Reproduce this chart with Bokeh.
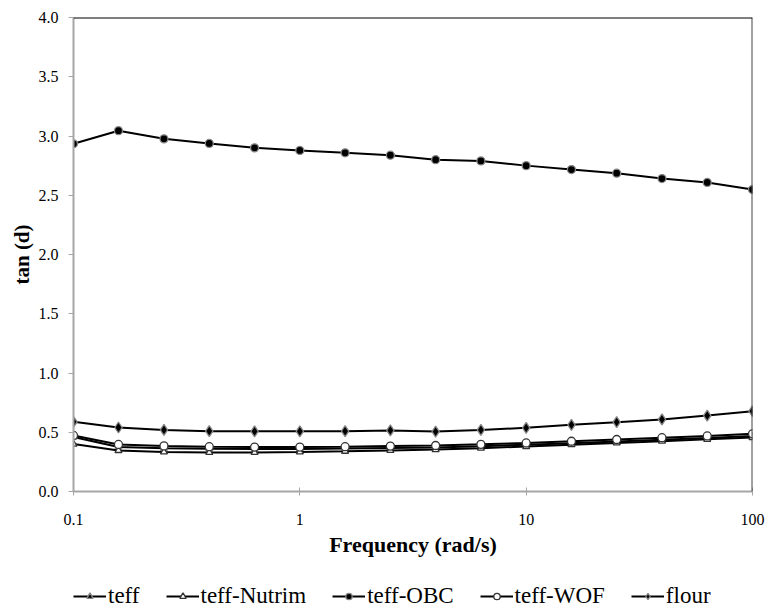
from bokeh.plotting import figure
from bokeh.layouts import column
from bokeh.models import FixedTicker, Span, Legend, LegendItem, Range1d
from bokeh.embed import file_html
from bokeh.resources import INLINE

freq = [0.1, 0.158, 0.251, 0.398, 0.631, 1.0, 1.585, 2.512, 3.981, 6.31,
        10.0, 15.85, 25.12, 39.81, 63.1, 100.0]

teff = [0.46, 0.375, 0.365, 0.36, 0.358, 0.358, 0.362, 0.367, 0.372, 0.382,
        0.395, 0.408, 0.422, 0.437, 0.452, 0.468]
teff_nutrim = [0.40, 0.346, 0.334, 0.33, 0.33, 0.334, 0.34, 0.347, 0.354, 0.366,
               0.38, 0.395, 0.41, 0.425, 0.44, 0.455]
teff_obc = [2.934, 3.045, 2.976, 2.937, 2.90, 2.878, 2.858, 2.838, 2.80, 2.79,
            2.75, 2.717, 2.686, 2.641, 2.608, 2.548]
teff_wof = [0.473, 0.397, 0.385, 0.378, 0.375, 0.375, 0.378, 0.383, 0.388, 0.398,
            0.41, 0.424, 0.439, 0.454, 0.469, 0.487]
flour = [0.588, 0.54, 0.52, 0.509, 0.508, 0.508, 0.509, 0.515, 0.506, 0.52,
         0.537, 0.563, 0.585, 0.608, 0.641, 0.678]

x_ticks = [0.1, 1, 10, 100]
x_tick_labels = ["0.1", "1", "10", "100"]
y_ticks = [0.0, 0.5, 1.0, 1.5, 2.0, 2.5, 3.0, 3.5, 4.0]

FONT = "Liberation Serif"

series = [
    ("teff", teff, "triangle", "black", 7),
    ("teff-Nutrim", teff_nutrim, "triangle", "white", 7),
    ("teff-OBC", teff_obc, "circle", "black", 8),
    ("teff-WOF", teff_wof, "circle", "white", 8),
    ("flour", flour, "diamond", "black", 11),
]

# ---------------- main chart ----------------
p = figure(frame_width=679, frame_height=474, x_axis_type="log",
           x_range=Range1d(0.1, 100), y_range=Range1d(0, 4.0),
           output_backend="svg", toolbar_location=None,
           min_border_left=73, min_border_right=14, min_border_top=17,
           min_border_bottom=72)
p.outline_line_color = None
p.xgrid.grid_line_color = None
p.ygrid.grid_line_color = None
p.background_fill_color = "white"
p.border_fill_color = "white"

for name, vals, marker, fill, size in series:
    p.line(freq, vals, line_color="black", line_width=2)
    p.scatter(freq, vals, marker=marker, size=size, fill_color=fill,
              line_color="#333333" if fill == "white" else "#888888",
              line_width=1.3)

p.add_layout(Span(location=100, dimension="height", line_color="#444444", line_width=2))
p.add_layout(Span(location=4.0, dimension="width", line_color="black", line_width=2))

for ax in (p.xaxis[0], p.yaxis[0]):
    ax.axis_line_color = "#a6a6a6"
    ax.axis_line_width = 2
    ax.major_tick_line_color = "#a6a6a6"
    ax.major_tick_line_width = 1
    ax.minor_tick_line_color = None
    ax.major_label_text_font = FONT
    ax.major_label_text_font_size = "16px"
    ax.major_label_text_color = "black"
    ax.axis_label_text_font = FONT
    ax.axis_label_text_font_style = "bold"
    ax.axis_label_text_color = "black"

p.xaxis.ticker = FixedTicker(ticks=x_ticks)
p.xaxis.major_label_overrides = {t: l for t, l in zip(x_ticks, x_tick_labels)}
p.xaxis.major_tick_in = 4
p.xaxis.major_tick_out = 4
p.xaxis.major_label_standoff = 18
p.xaxis.axis_label = "Frequency (rad/s)"
p.xaxis.axis_label_text_font_size = "22px"
p.xaxis.axis_label_standoff = 4

p.yaxis.ticker = FixedTicker(ticks=y_ticks)
p.yaxis.major_label_overrides = {t: f"{t:.1f}" for t in y_ticks}
p.yaxis.major_tick_in = 0
p.yaxis.major_tick_out = 5
p.yaxis.major_label_standoff = 10
p.yaxis.axis_label = "tan (d)"
p.yaxis.axis_label_text_font_size = "21px"
p.yaxis.axis_label_standoff = 2

# ---------------- legend strip ----------------
lg = figure(width=766, height=48, x_axis_type="log",
            x_range=Range1d(0.1, 100), y_range=Range1d(0, 4.0),
            output_backend="svg", toolbar_location=None,
            x_axis_location=None, y_axis_location=None,
            min_border_left=0, min_border_right=0, min_border_top=0,
            min_border_bottom=0)
lg.outline_line_color = None
lg.xgrid.grid_line_color = None
lg.ygrid.grid_line_color = None

items = []
for name, vals, marker, fill, size in series:
    r1 = lg.line(freq, vals, line_color="black", line_width=2, visible=False)
    r2 = lg.scatter(freq, vals, marker=marker, size=size, fill_color=fill,
                    line_color="#333333" if fill == "white" else "#888888",
                    line_width=1.3, visible=False)
    items.append(LegendItem(label=name, renderers=[r1, r2]))

legend = Legend(items=items, orientation="horizontal", location=(0, 2),
                label_text_font=FONT, label_text_font_size="23px",
                label_text_color="black", glyph_width=33, glyph_height=16,
                spacing=26, label_standoff=2, border_line_color=None,
                background_fill_alpha=0, margin=0, padding=0,
                click_policy="none")
lg.add_layout(legend, "center")

layout = column(p, lg, spacing=0)
open("out.html", "w").write(file_html(layout, INLINE))
